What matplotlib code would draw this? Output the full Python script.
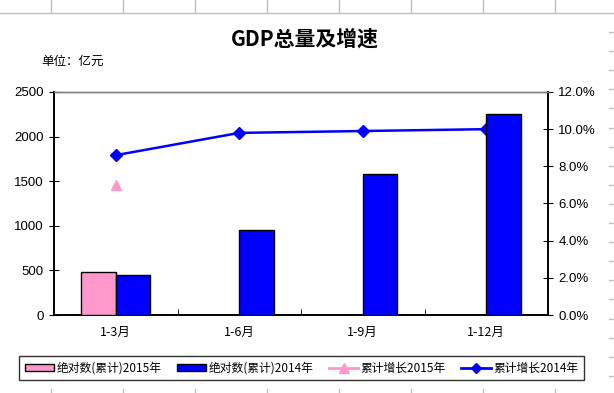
import matplotlib.pyplot as plt
import numpy as np
from matplotlib.lines import Line2D

plt.rcParams['font.family'] = ['Noto Sans CJK SC', 'DejaVu Sans']

categories = ["1-3月", "1-6月", "1-9月", "1-12月"]
abs_2015 = [486, np.nan, np.nan, np.nan]
abs_2014 = [449, 954, 1583, 2256]
growth_2015 = [7.0, np.nan, np.nan, np.nan]
growth_2014 = [8.6, 9.8, 9.9, 10.0]

labels = ["绝对数(累计)2015年", "绝对数(累计)2014年", "累计增长2015年", "累计增长2014年"]
pink = "#FF99CC"
blue = "#0000FF"

W, H = 614, 393
fig = plt.figure(figsize=(W / 100, H / 100), dpi=100)

# excel sheet grid peeking around the chart object
grid_c = "#C0C0C0"
for x in np.arange(51, W, 72):
    fig.add_artist(Line2D([x / W, x / W], [1, 1 - 13 / H], color=grid_c, lw=1))
    fig.add_artist(Line2D([x / W, x / W], [0, 4 / H], color=grid_c, lw=1))
fig.add_artist(Line2D([0, 1], [1 - 13 / H, 1 - 13 / H], color=grid_c, lw=1))
for y in np.arange(32, 392, 19.1):
    fig.add_artist(Line2D([609 / W, 614 / W], [1 - y / H, 1 - y / H], color=grid_c, lw=1))

ax = fig.add_axes([54 / W, 1 - 315 / H, 494 / W, 223 / H])
ax2 = ax.twinx()

x = np.arange(len(categories))
bw = 0.28
ax.bar(x - bw / 2, abs_2015, bw, color=pink, edgecolor="black", linewidth=1, zorder=3)
ax.bar(x + bw / 2, abs_2014, bw, color=blue, edgecolor="black", linewidth=1, zorder=3)

ax2.plot(x, growth_2015, marker="^", color=pink, markersize=7.5, linewidth=1.8)
ax2.plot(x, growth_2014, marker="D", color=blue, markersize=6, linewidth=1.8)

# bars sit on top of the line in the reference
ax.set_zorder(2)
ax.patch.set_visible(False)
ax2.set_zorder(1)

ax.set_xlim(-0.5, 3.5)
ax.set_ylim(0, 2500)
ax.set_yticks(np.arange(0, 2501, 500))
ax2.set_ylim(0, 12)
ax2.set_yticks(np.arange(0, 12.1, 2))
ax2.set_yticklabels(["{:.1f}%".format(v) for v in np.arange(0, 12.1, 2)])

ax.set_xticks(x)
ax.set_xticklabels(categories, fontsize=9)
ax.set_xticks(np.arange(-0.5, 3.6, 1), minor=True)
ax.tick_params(axis="x", which="major", length=0, pad=8)
ax.tick_params(axis="x", which="minor", direction="in", length=4)
ax.tick_params(axis="y", direction="inout", length=7, labelsize=9.5, pad=4)
ax2.tick_params(axis="y", direction="inout", length=7, labelsize=9.5, pad=4)
for t in ax.get_yticklabels() + ax2.get_yticklabels():
    t.set_family("Liberation Sans")

for a in (ax, ax2):
    for s in ["left", "right", "bottom"]:
        a.spines[s].set_linewidth(1.2)
    a.spines["top"].set_color("#808080")
    a.spines["top"].set_linewidth(1)

fig.text(305 / W, 1 - 39 / H, "GDP总量及增速", ha="center", va="center",
         fontsize=15, fontweight="bold")
fig.text(41 / W, 1 - 61 / H, "单位：亿元", ha="left", va="center", fontsize=9)

handles = [
    plt.Rectangle((0, 0), 1, 1, facecolor=pink, edgecolor="black", linewidth=1),
    plt.Rectangle((0, 0), 1, 1, facecolor=blue, edgecolor="black", linewidth=1),
    Line2D([], [], color=pink, marker="^", markersize=6.5, linewidth=2),
    Line2D([], [], color=blue, marker="D", markersize=5.5, linewidth=2),
]
leg = fig.legend(handles, labels, loc="center", bbox_to_anchor=(301.5 / W, 1 - 368 / H),
                 ncol=4, fontsize=8.5, frameon=True, fancybox=False, handlelength=2.5,
                 handleheight=0.6, columnspacing=1.3, handletextpad=0.2, borderpad=0.45,
                 borderaxespad=0)
leg.get_frame().set_edgecolor("black")
leg.get_frame().set_linewidth(1)

fig.savefig("out.png", dpi=100)
